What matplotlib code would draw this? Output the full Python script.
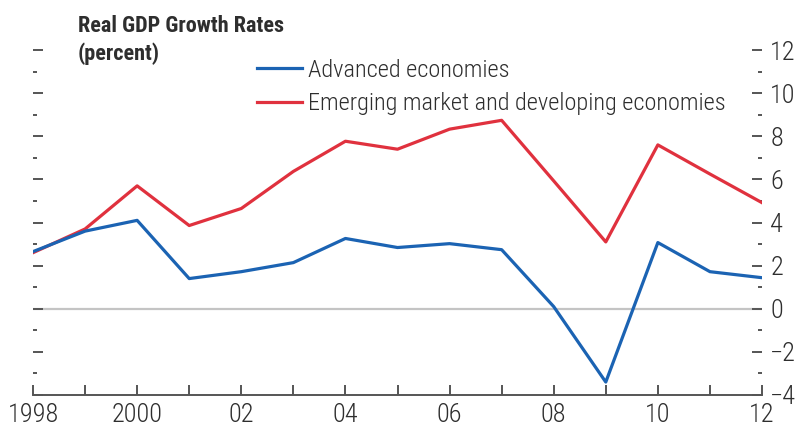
import matplotlib
matplotlib.use("Agg")
import matplotlib.pyplot as plt
from matplotlib.ticker import MultipleLocator, FixedLocator
from matplotlib import font_manager

names = {f.name for f in font_manager.fontManager.ttflist}
FONT = "DejaVu Sans"
for cand in ["Roboto Condensed", "Archivo Narrow", "Liberation Sans Narrow", "Barlow Condensed", "Asap Condensed"]:
    if cand in names:
        FONT = cand
        break
plt.rcParams['font.family'] = [FONT, 'DejaVu Sans']
if FONT == "DejaVu Sans":
    plt.rcParams['font.stretch'] = 'condensed'
LIGHT = "light"

years = list(range(1998, 2013))
advanced = [2.65, 3.6, 4.1, 1.4, 1.72, 2.14, 3.26, 2.84, 3.02, 2.74, 0.1, -3.4, 3.07, 1.72, 1.44]
emerging = [2.6, 3.7, 5.7, 3.86, 4.65, 6.37, 7.77, 7.4, 8.33, 8.74, 5.93, 3.1, 7.6, 6.25, 4.92]
xtick_labels = ["1998", "", "2000", "", "02", "", "04", "", "06", "", "08", "", "10", "", "12"]
ytick_values = [-4, -2, 0, 2, 4, 6, 8, 10, 12]
ytick_labels = ["\u22124", "\u22122", "0", "2", "4", "6", "8", "10", "12"]

BLUE = "#1b63b3"
RED = "#e0313e"
TXT = "#2e2e2e"
TICK = "#555555"

fig = plt.figure(figsize=(7.98, 4.32), dpi=100)
ax = fig.add_axes([33/798, 37/432, (762-33)/798, (392.75-37)/432])

ax.axhline(0, color="#c4c4c4", lw=1.6, zorder=1)
l1, = ax.plot(years, advanced, color=BLUE, lw=2.3, label="Advanced economies", zorder=3)
l2, = ax.plot(years, emerging, color=RED, lw=2.3, label="Emerging market and developing economies", zorder=2)

ax.set_xlim(1998, 2012)
ax.set_ylim(-4, 12.5)

for s in ["top", "left", "right"]:
    ax.spines[s].set_visible(False)
ax.spines["bottom"].set_color(TICK)
ax.spines["bottom"].set_linewidth(1.4)

ax.set_xticks(years)
ax.set_xticklabels(xtick_labels)
ax.tick_params(axis="x", direction="in", length=7, width=1.4, color=TICK,
               labelsize=19, labelcolor=TXT, pad=6)

ax.yaxis.set_major_locator(FixedLocator(ytick_values))
ax.yaxis.set_minor_locator(MultipleLocator(1))
ax.set_yticklabels(ytick_labels)
ax.tick_params(axis="y", which="major", direction="in", length=7, width=1.4, color=TICK,
               left=True, right=True, labelleft=False, labelright=True,
               labelsize=19, labelcolor=TXT, pad=6)
ax.tick_params(axis="y", which="minor", direction="in", length=3, width=1.4, color=TICK,
               left=True, right=True)
for lbl in ax.get_xticklabels() + ax.get_yticklabels():
    lbl.set_fontweight(LIGHT)

fig.text(78/798, 1 - 15/432, "Real GDP Growth Rates\n(percent)", ha="left", va="top",
         fontsize=16, fontweight="bold", color=TXT, linespacing=1.3)

leg = ax.legend(handles=[l1, l2], loc="upper left", bbox_to_anchor=(257/798, 1 - 59/432),
                bbox_transform=fig.transFigure, frameon=False,
                prop={"size": 17.6, "weight": LIGHT},
                handlelength=1.85, handletextpad=0.25, labelspacing=0.42, borderaxespad=0,
                borderpad=0)
for t in leg.get_texts():
    t.set_color(TXT)

fig.savefig("out.png", dpi=100)
